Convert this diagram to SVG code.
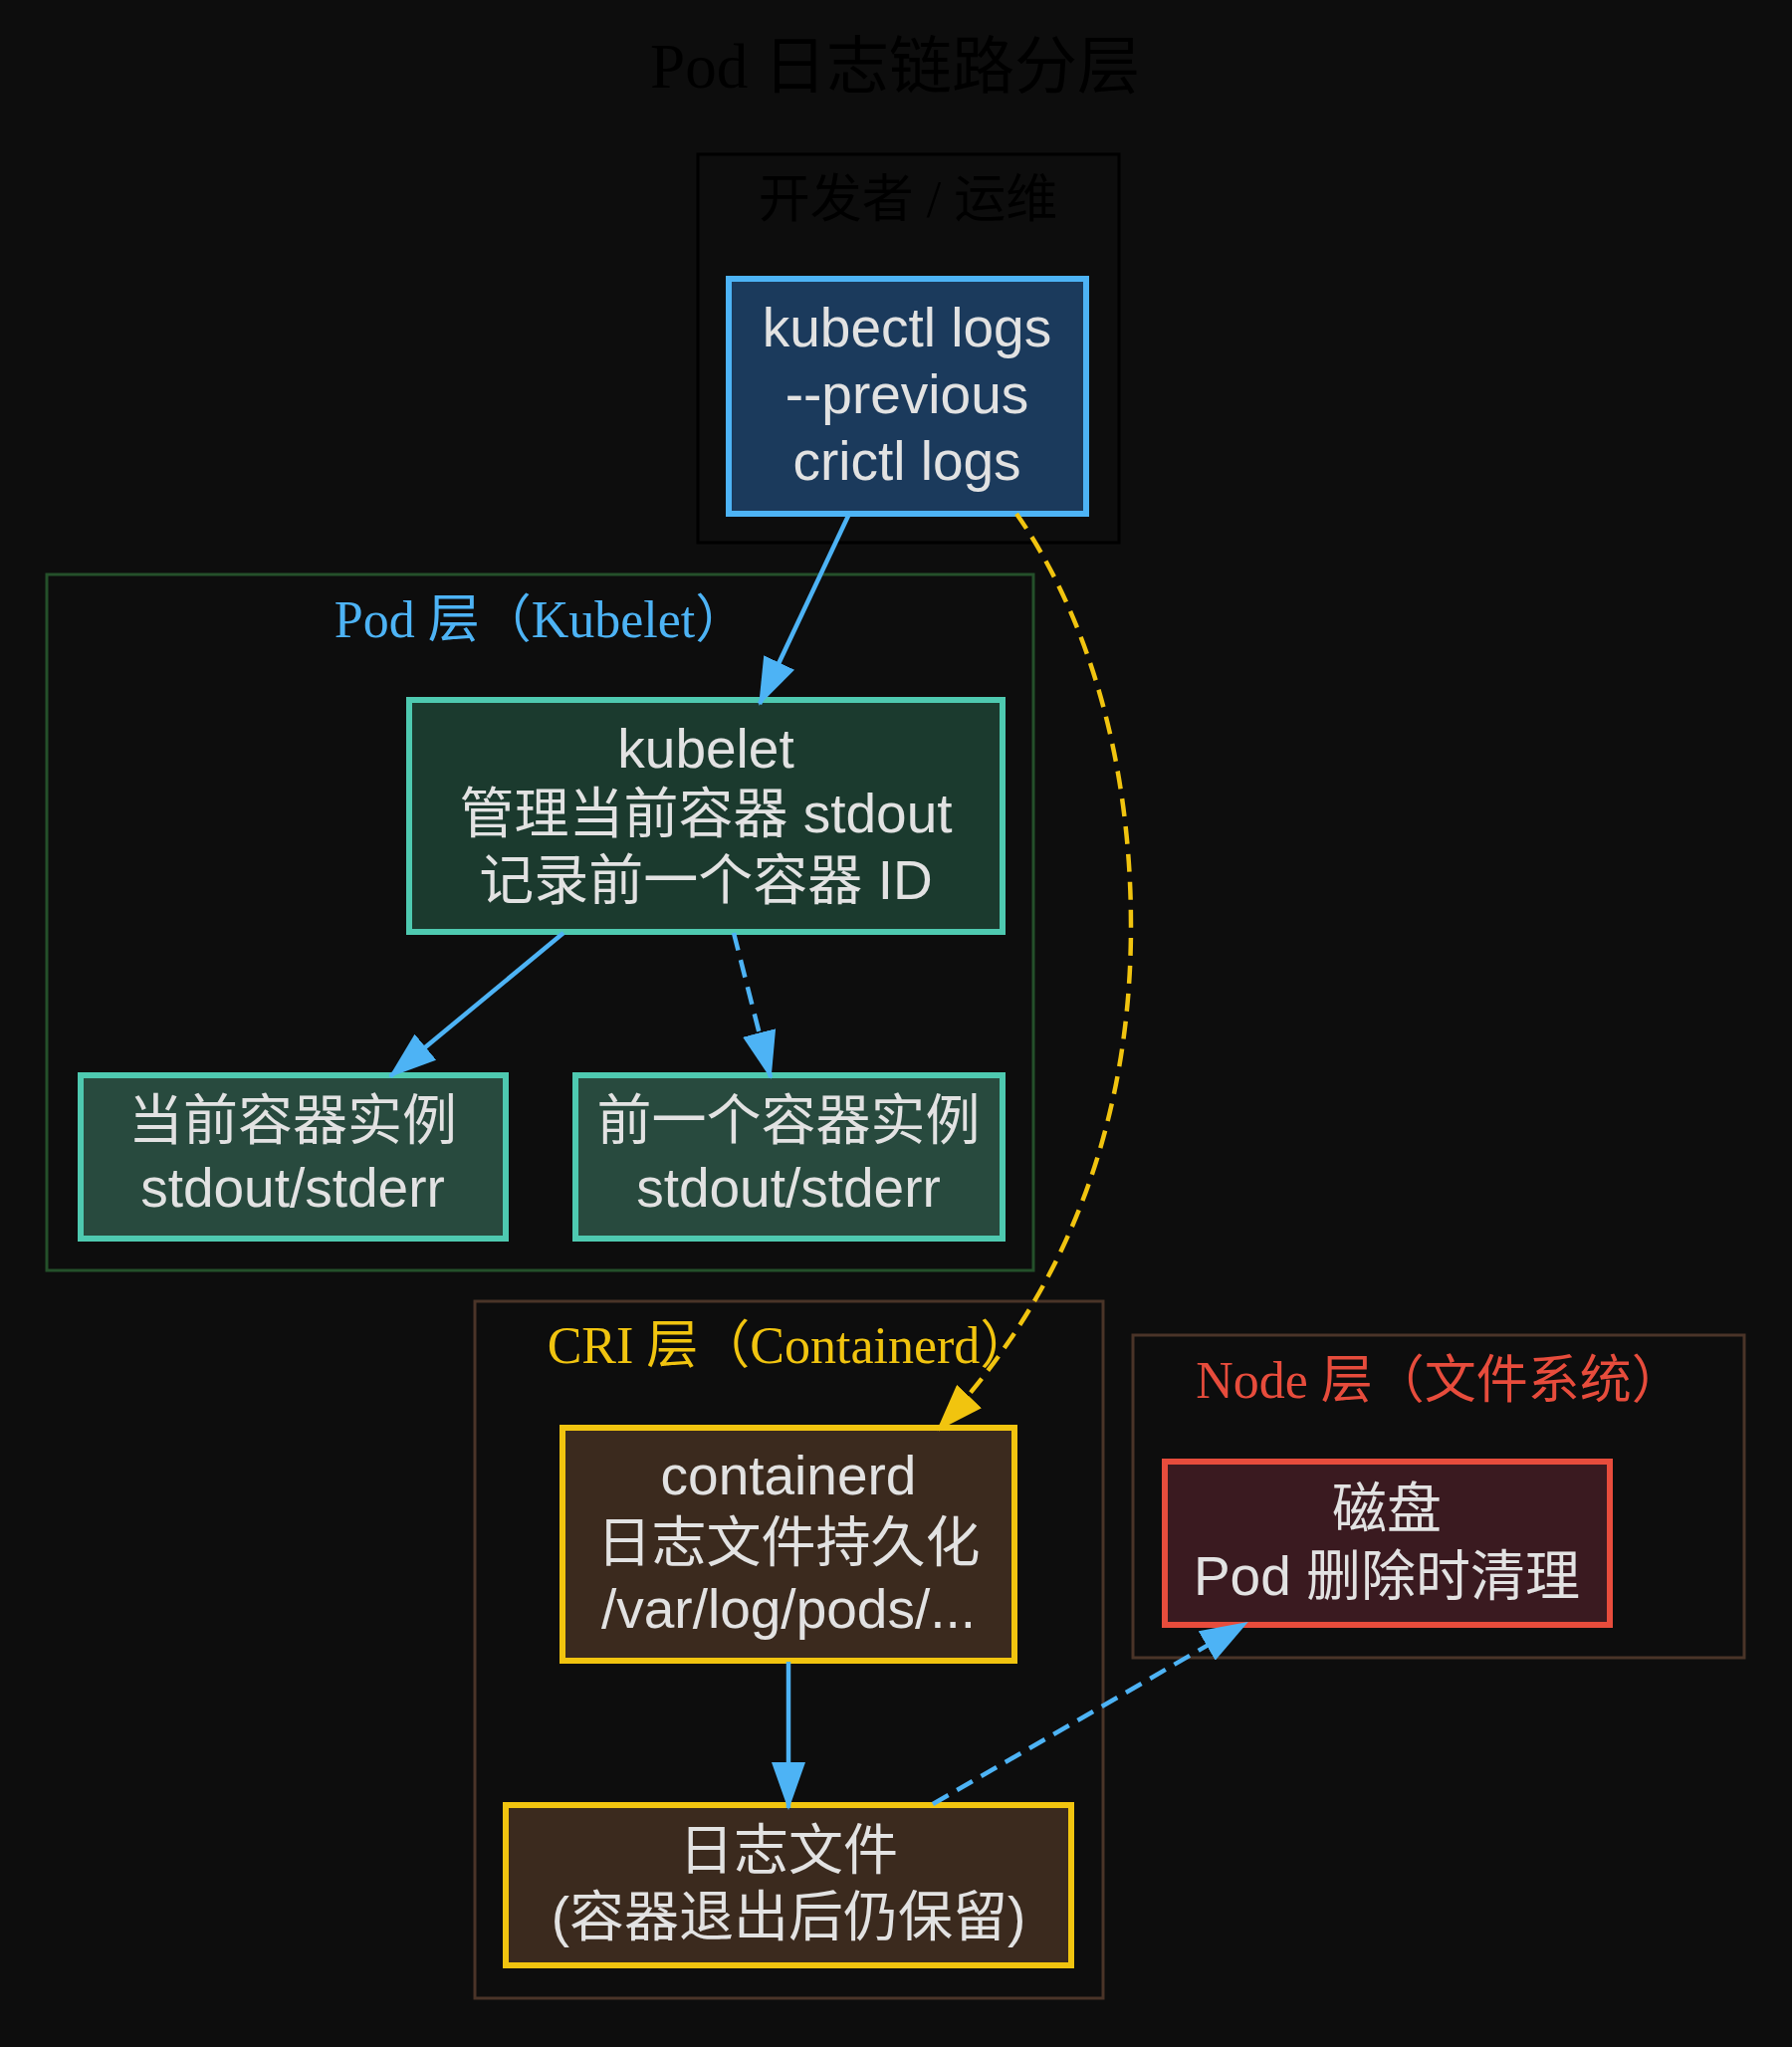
<svg xmlns="http://www.w3.org/2000/svg" width="1800" height="2056" viewBox="0 0 1800 2056">
<style>
.cl{font-family:"Liberation Serif","Noto Sans CJK SC",serif;font-size:52px;text-anchor:middle}
.nt{font-family:"Liberation Sans","Noto Sans CJK SC",sans-serif;font-size:55px;fill:#e2e2e2;text-anchor:middle}
.e{fill:none;stroke-width:4.5}
.blue{stroke:#4db3f5}
.gold{stroke:#f1c40f}
.dash{stroke-dasharray:18 10}
.nd{stroke-width:6}
</style>
<defs>
<marker id="ab" markerUnits="userSpaceOnUse" markerWidth="48" markerHeight="34" viewBox="0 0 48 34" refX="46" refY="17" orient="auto"><path d="M0,0 L48,17 L0,34 z" fill="#4db3f5"/></marker>
<marker id="ag" markerUnits="userSpaceOnUse" markerWidth="48" markerHeight="34" viewBox="0 0 48 34" refX="46" refY="17" orient="auto"><path d="M0,0 L48,17 L0,34 z" fill="#f1c40f"/></marker>
</defs>
<rect x="0" y="0" width="1800" height="2056" fill="#0d0d0d"/>
<text x="899" y="88" font-family="Liberation Serif,'Noto Sans CJK SC',serif" font-size="63" fill="#000" text-anchor="middle">Pod 日志链路分层</text>

<g id="cluster_dev">
<rect x="701" y="155" width="423" height="390" fill="none" stroke="#000" stroke-width="3"/>
<text class="cl" x="912" y="218" fill="#000">开发者 / 运维</text>
</g>
<g id="cluster_pod">
<rect x="47" y="577" width="991" height="699" fill="none" stroke="#24502a" stroke-width="3"/>
<text class="cl" x="543" y="640" fill="#4db3f5">Pod 层（Kubelet）</text>
</g>
<g id="cluster_cri">
<rect x="477" y="1307" width="631" height="700" fill="none" stroke="#4a3428" stroke-width="3"/>
<text class="cl" x="793" y="1369" fill="#f1c40f">CRI 层（Containerd）</text>
</g>
<g id="cluster_node">
<rect x="1138" y="1341" width="614" height="324" fill="none" stroke="#4a3428" stroke-width="3"/>
<text class="cl" x="1446" y="1404" fill="#e74c3c">Node 层（文件系统）</text>
</g>

<g id="kubectl">
<rect class="nd" x="732" y="280" width="359" height="236" fill="#1b3a5c" stroke="#4db3f5"/>
<text class="nt" x="911" y="348">kubectl logs</text>
<text class="nt" x="911" y="415">--previous</text>
<text class="nt" x="911" y="482">crictl logs</text>
</g>
<g id="kubelet">
<rect class="nd" x="411" y="703" width="596" height="233" fill="#1b3a2e" stroke="#4ec9b0"/>
<text class="nt" x="709" y="771">kubelet</text>
<text class="nt" x="709" y="836">管理当前容器 stdout</text>
<text class="nt" x="709" y="903">记录前一个容器 ID</text>
</g>
<g id="current">
<rect class="nd" x="81" y="1080" width="427" height="164" fill="#284a3e" stroke="#4ec9b0"/>
<text class="nt" x="294" y="1144">当前容器实例</text>
<text class="nt" x="294" y="1212">stdout/stderr</text>
</g>
<g id="previous">
<rect class="nd" x="578" y="1080" width="429" height="164" fill="#284a3e" stroke="#4ec9b0"/>
<text class="nt" x="792" y="1144">前一个容器实例</text>
<text class="nt" x="792" y="1212">stdout/stderr</text>
</g>
<g id="containerd">
<rect class="nd" x="565" y="1434" width="454" height="234" fill="#3b2a1e" stroke="#f1c40f"/>
<text class="nt" x="792" y="1501">containerd</text>
<text class="nt" x="792" y="1568">日志文件持久化</text>
<text class="nt" x="792" y="1635">/var/log/pods/...</text>
</g>
<g id="logfile">
<rect class="nd" x="508" y="1813" width="568" height="161" fill="#3b2a1e" stroke="#f1c40f"/>
<text class="nt" x="792" y="1877">日志文件</text>
<text class="nt" x="792" y="1944">(容器退出后仍保留)</text>
</g>
<g id="disk">
<rect class="nd" x="1170" y="1468" width="447" height="164" fill="#3a1a20" stroke="#e74c3c"/>
<text class="nt" x="1393" y="1534">磁盘</text>
<text class="nt" x="1393" y="1602">Pod 删除时清理</text>
</g>

<g id="edges">
<path class="e blue" d="M853,516 L763,707" marker-end="url(#ab)"/>
<path class="e gold dash" d="M1021,516 C1080,600 1136,740 1136,930 C1136,1130 1070,1300 942,1436" marker-end="url(#ag)"/>
<path class="e blue" d="M566,937 L392,1081" marker-end="url(#ab)"/>
<path class="e blue dash" d="M737,937 L774,1082" marker-end="url(#ab)"/>
<path class="e blue" d="M792,1669 L792,1816" marker-end="url(#ab)"/>
<path class="e blue dash" d="M937,1812 L1252,1630" marker-end="url(#ab)"/>
</g>
</svg>
